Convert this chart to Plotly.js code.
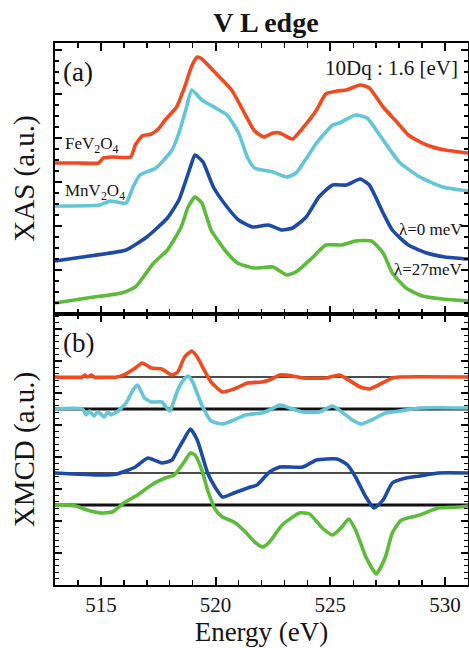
<!DOCTYPE html>
<html>
<head>
<meta charset="utf-8">
<script src="https://cdn.plot.ly/plotly-3.0.1.min.js"></script>
<style>html,body{margin:0;padding:0;background:#fff;}#chart{width:469px;height:648px;}</style>
</head>
<body>
<div id="chart"></div>
<script>
// ---- Panel (a): XAS (arbitrary units, offset for display) ----
const feXasE = [513,514,514.9,515.1,515.5,516.3,516.5,516.8,517.2,517.5,517.8,518.3,518.65,518.96,519.2,519.4,520,520.7,521.3,521.7,522.1,522.5,522.8,523.35,523.8,524.4,524.8,525.3,525.7,526.3,526.7,527.3,527.9,528.4,529.2,530,531];
const feXasY = [151,151,151,156,157,157,169,178,180,185,194,207,227,248,257,255,241,224,199,183,177,181,181,175,186,204,220,223,224,229,226,207,192,179,169,164,161];

const mnXasE = [513,514.96,515.4,516.1,516.4,516.7,517.4,518.1,518.4,518.7,518.96,519.4,520,520.5,521,521.4,521.7,522.5,523.1,523.5,524.4,525.1,525.4,526.1,526.6,527.3,528,528.9,529.9,531];
const mnXasY = [108,109,113,111,127,139,146,164,181,204,224,214,206,199,181,156,146,142,137,141,171,189,191,199,196,174,152,137,127,123];

const l0XasE = [513,514.2,516.1,517,517.9,518.4,518.9,519.1,519.45,519.9,520.5,521,521.6,522.3,522.9,523.35,523.95,524.5,525.1,525.7,526.3,526.7,527.3,527.7,528.4,529.2,530,531];
const l0XasY = [53,57,64,77,96,114,147,159,152,127,107,94,87,89,84,86,97,117,129,129,135,129,101,84,69,61,57,55];

const l27XasE = [513,514.4,515.9,516.5,517.3,517.9,518.5,518.8,519.1,519.4,519.8,520.4,520.95,521.7,522.5,523.1,523.5,524.2,524.8,525.5,526.1,526.8,527.3,527.7,528.3,529,529.9,531];
const l27XasY = [11,16,21,27,51,64,87,107,117,111,84,64,51,46,47,39,42,56,69,69,73,73,61,41,26,18,15,13];

// ---- Panel (b): XMCD (arbitrary units, offset for display) ----
const feMcdE = [513,514.2,514.3,514.4,514.6,514.7,515.7,516,516.5,516.8,517.2,517.65,518.1,518.35,518.65,518.96,519.2,519.5,519.8,520.3,520.8,521.4,522,522.35,522.8,523.35,523.8,524.8,525.4,525.8,526.3,526.7,527.1,527.7,528,531];
const feMcdY = [208,208,210,208,210,208,208,210,217,222,217,216,210,213,228,234,228,215,203,193,196,202,203,205,210,209,207,207,210,205,198,196,200,207,208,208];

const mnMcdE = [513,514.2,514.35,514.5,514.7,514.85,515,515.15,515.3,515.45,515.6,515.7,516.1,516.4,516.6,516.9,517.2,517.65,518,518.35,518.6,518.8,519,519.4,519.8,520.3,520.7,521.3,522,522.35,522.8,523.35,523.8,524.5,525.1,525.5,525.96,526.35,526.8,527.4,528,528.9,531];
const mnMcdY = [176,176,170,174,169,173,171,168,173,170,172,173,182,195,200,187,183,183,174,195,205,209,203,180,164,161,164,170,172,175,180,176,173,173,179,173,165,161,165,172,174,177,177];

const l0McdE = [513,515,515.7,516.5,517.05,517.65,518.1,518.35,518.6,518.9,519.2,519.65,520,520.3,520.8,521.4,521.8,521.9,522.35,522.8,523.8,524.4,525.3,525.75,526.1,526.55,526.9,527.3,527.7,528.3,528.9,529.7,531];
const l0McdY = [112,110,111,118,127,122,125,135,145,156,145,112,97,88,92,97,100,102,113,118,118,125,126,120,108,88,77,85,102,107,109,112,112];

const l27McdE = [513,513.9,514.4,515,515.5,516,516.6,517.2,517.8,518.2,518.6,518.9,519.1,519.4,519.65,520,520.3,520.8,521.3,521.7,522.05,522.35,522.9,523.65,524.1,524.65,525.1,525.5,525.8,526.1,526.55,527,527.4,527.7,528.1,528.9,529.7,530.6,531];
const l27McdY = [80,79,75,72,73,82,90,100,107,110,122,132,130,115,95,75,68,63,53,43,38,43,60,72,71,57,50,58,66,55,28,11,28,52,65,70,77,78,79];

// zero lines of the XMCD spectra and their widths
const mcdBaselines = [208,176,112,80];
const baselineWidths = [1.5,3,1.5,3];

const xRange = [513,531];
const xTickVals = [515,520,525,530];

const colors = {fe:'#f04a1e', mn:'#62c6d6', l0:'#1c4aa6', l27:'#5cbb38'};
const LW = 3.6;

const traces = [];
mcdBaselines.forEach((b,i)=>{
  traces.push({x:xRange, y:[b,b], xaxis:'x2', yaxis:'y2', mode:'lines',
    line:{color:'#111', width:baselineWidths[i]}, hoverinfo:'skip', showlegend:false});
});
function add(x,y,c,xa,ya){ traces.push({x:x,y:y,xaxis:xa,yaxis:ya,mode:'lines',line:{color:c,width:LW,shape:'spline',smoothing:0.5},showlegend:false}); }
add(l27XasE,l27XasY,colors.l27,'x','y');
add(l0XasE,l0XasY,colors.l0,'x','y');
add(mnXasE,mnXasY,colors.mn,'x','y');
// top-most curves drawn on the mirrored (top/right) axes of each panel
add(feXasE,feXasY,colors.fe,'x3','y3');
add(l27McdE,l27McdY,colors.l27,'x2','y2');
add(l0McdE,l0McdY,colors.l0,'x2','y2');
add(mnMcdE,mnMcdY,colors.mn,'x2','y2');
add(feMcdE,feMcdY,colors.fe,'x4','y4');

const serif = "'Liberation Serif', 'Times New Roman', serif";
const txt = '#141418';

function xAx(extra){
  return Object.assign({range:xRange, showline:true, linewidth:2, linecolor:'#000', mirror:true,
    ticks:'inside', ticklen:8, tickwidth:2, tickcolor:'#000', tickvals:xTickVals, showgrid:false, zeroline:false,
    showticklabels:false,
    minor:{dtick:1, ticks:'inside', ticklen:5, tickwidth:1.5, tickcolor:'#000', showgrid:false}}, extra);
}
function yAx(major, minor, extra){
  return Object.assign({range:[0,271], showline:true, linewidth:2, linecolor:'#000', mirror:true,
    ticks:'inside', ticklen:7, tickwidth:1.5, tickcolor:'#000', tick0:0, dtick:major, showticklabels:false, showgrid:false, zeroline:false,
    minor:{dtick:minor, ticks:'inside', ticklen:4, tickwidth:1.2, tickcolor:'#000', showgrid:false}}, extra);
}

const layout = {
  width:469, height:648,
  margin:{l:55, r:1, t:43, b:63},
  paper_bgcolor:'#fff', plot_bgcolor:'#fff',
  font:{family:serif, color:txt},
  title:{text:'<b>V L edge</b>', font:{family:serif, size:28, color:txt}, x:0.567, xanchor:'center', y:0.965, yanchor:'middle'},
  xaxis: xAx({anchor:'y'}),
  xaxis2: xAx({anchor:'y2', showticklabels:true, tickfont:{family:serif, size:21, color:txt},
    title:{text:'Energy (eV)', font:{family:serif, size:27, color:txt}, standoff:2}}),
  xaxis3: xAx({anchor:'y3', overlaying:'x', side:'top', showline:false}),
  xaxis4: xAx({anchor:'y4', overlaying:'x2', side:'top', showline:false}),
  yaxis: yAx(44, 11, {domain:[0.5,1], anchor:'x',
    title:{text:'XAS (a.u.)', font:{family:serif, size:29, color:txt}, standoff:10}}),
  yaxis2: yAx(32, 6.4, {domain:[0,0.5], anchor:'x2',
    title:{text:'XMCD (a.u.)', font:{family:serif, size:29, color:txt}, standoff:10}}),
  yaxis3: yAx(44, 11, {anchor:'x3', overlaying:'y', side:'right', showline:false}),
  yaxis4: yAx(32, 6.4, {anchor:'x4', overlaying:'y2', side:'right', showline:false}),
  annotations:[
    {text:'(a)', xref:'paper', yref:'paper', x:0.014, y:0.946, xanchor:'left', yanchor:'middle', showarrow:false, font:{family:serif, size:27, color:txt}},
    {text:'(b)', xref:'paper', yref:'paper', x:0.014, y:0.446, xanchor:'left', yanchor:'middle', showarrow:false, font:{family:serif, size:27, color:txt}},
    {text:'10Dq : 1.6 [eV]', xref:'paper', yref:'paper', x:0.98, y:0.954, xanchor:'right', yanchor:'middle', showarrow:false, font:{family:serif, size:21, color:txt}},
    {text:'FeV<sub>2</sub>O<sub>4</sub>', xref:'paper', yref:'paper', x:0.02, y:0.811, xanchor:'left', yanchor:'middle', showarrow:false, font:{family:serif, size:17, color:txt}},
    {text:'MnV<sub>2</sub>O<sub>4</sub>', xref:'paper', yref:'paper', x:0.02, y:0.725, xanchor:'left', yanchor:'middle', showarrow:false, font:{family:serif, size:17, color:txt}},
    {text:'λ=0 meV', xref:'paper', yref:'paper', x:0.992, y:0.655, xanchor:'right', yanchor:'middle', showarrow:false, font:{family:serif, size:17, color:txt}},
    {text:'λ=27meV', xref:'paper', yref:'paper', x:0.992, y:0.583, xanchor:'right', yanchor:'middle', showarrow:false, font:{family:serif, size:17, color:txt}}
  ]
};

Plotly.newPlot('chart', traces, layout, {displayModeBar:false, staticPlot:true});
</script>
</body>
</html>
